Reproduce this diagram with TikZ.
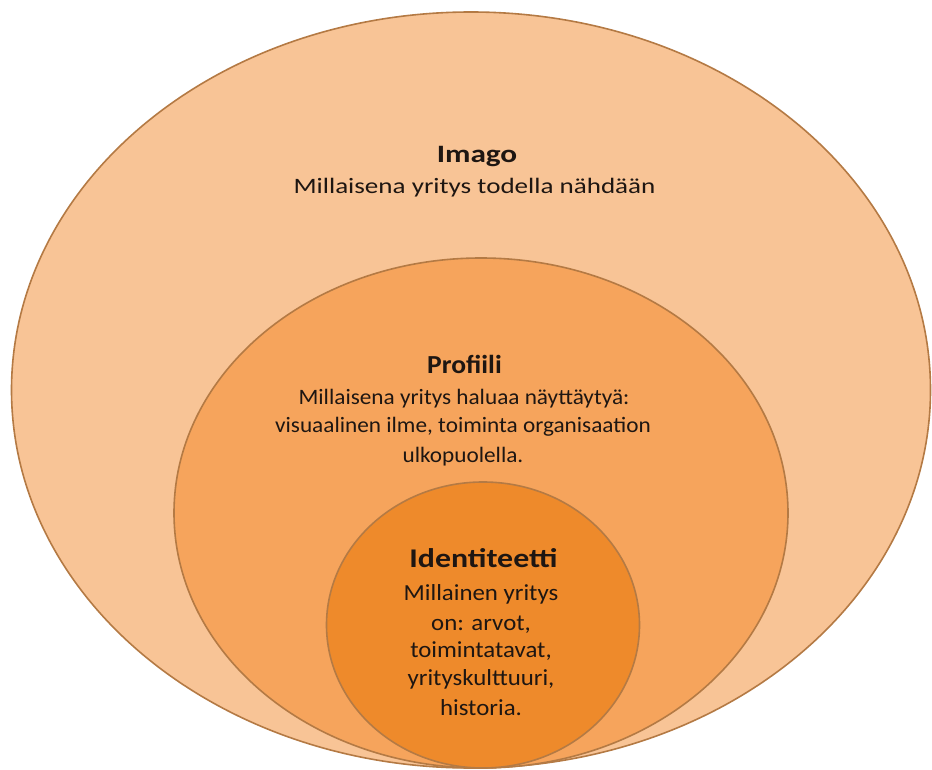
\documentclass[tikz,border=0pt]{standalone}
\usepackage{fontspec}
\setmainfont{Carlito}
\usetikzlibrary{shapes.geometric}
\definecolor{outerfill}{HTML}{F8C496}
\definecolor{midfill}{HTML}{F6A45C}
\definecolor{innerfill}{HTML}{EE8A2B}
\definecolor{rimcol}{HTML}{B47A44}
\definecolor{inkcol}{HTML}{1E1612}
\tikzset{
  ring/.style={ellipse, draw=rimcol, line width=1.6pt, inner sep=0pt},
  title/.style={text=inkcol, anchor=base, inner sep=0pt},
  body/.style={text=inkcol, align=center, anchor=base, inner sep=0pt}
}
% type sizes with a horizontal stretch factor
\newcommand{\ttlfont}[2]{\fontsize{#1}{#1}\selectfont\bfseries\addfontfeatures{FakeStretch=#2}}
\newcommand{\bdyfont}[2]{\fontsize{#1}{#1}\selectfont\addfontfeatures{FakeStretch=#2}}
\begin{document}
\begin{tikzpicture}[x=1pt,y=-1pt]
\useasboundingbox (0,0) rectangle (932,770);
% nested rings, all resting on the same bottom line
\node[ring, fill=outerfill, minimum width=919pt, minimum height=756pt] (outer) at (471,390) {};
\node[ring, fill=midfill, minimum width=614pt, minimum height=510pt] (middle) at (481,513) {};
\node[ring, fill=innerfill, minimum width=313pt, minimum height=286pt] (inner) at (483,625) {};
% labels
\node[title, font=\ttlfont{25}{1.25}] (imagot) at (477,163) {Imago};
\node[body, font=\bdyfont{22}{1.23}] (imagob) at (474.5,194) {Millaisena yritys todella nähdään};
\node[title, font=\ttlfont{26}{1.06}] (proft) at (464.5,373) {Profiili};
\node[body, font=\bdyfont{22}{1.056}] (profb1) at (464,404) {Millaisena yritys haluaa näyttäytyä:};
\node[body, font=\bdyfont{22}{1.056}] (profb2) at (463,432) {visuaalinen ilme, toiminta organisaation};
\node[body, font=\bdyfont{22}{1.056}] (profb3) at (463,462) {ulkopuolella.};
\node[title, font=\ttlfont{27}{1.18}] (identt) at (483.5,567) {Identiteetti};
\node[body, font=\bdyfont{23}{1.08}] (identb1) at (481,600) {Millainen yritys};
\node[body, font=\bdyfont{23}{1.08}] (identb2) at (481,630) {on: arvot,};
\node[body, font=\bdyfont{23}{1.08}] (identb3) at (481,657) {toimintatavat,};
\node[body, font=\bdyfont{23}{1.08}] (identb4) at (481,685) {yrityskulttuuri,};
\node[body, font=\bdyfont{23}{1.08}] (identb5) at (481,715) {historia.};
\end{tikzpicture}
\end{document}
